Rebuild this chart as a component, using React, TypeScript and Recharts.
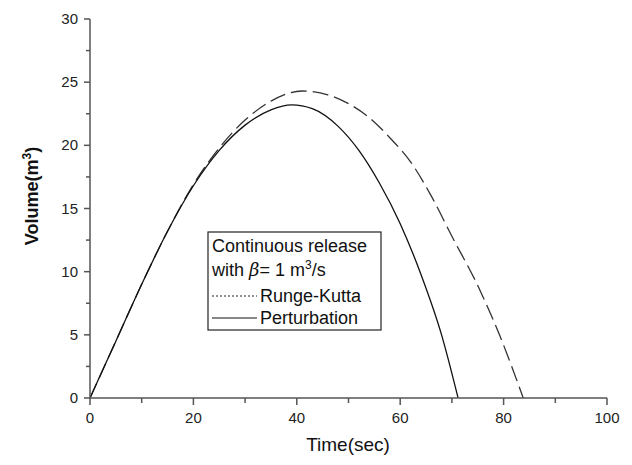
import React from 'react';
import { LineChart, Line, XAxis, YAxis, Customized } from 'recharts';

// Perturbation (solid)
const pertTime = [0, 5, 10, 15, 20, 25, 30, 35, 39, 43, 48, 52, 56, 60, 64, 68, 71.2];
const pertVolume = [0, 4.5, 9.0, 13.2, 16.8, 19.6, 21.6, 22.8, 23.2, 22.9, 21.5, 19.6, 17.0, 13.8, 9.8, 5.0, 0];

// Runge-Kutta (dashed)
const rkTime = [0, 5, 10, 15, 20, 25, 30, 35, 41, 46, 50, 54, 58, 62, 66, 70, 75, 79.3, 83.8];
const rkVolume = [0, 4.5, 9.0, 13.2, 16.9, 19.8, 22.0, 23.5, 24.3, 24.0, 23.3, 22.2, 20.6, 18.7, 16.0, 12.8, 8.9, 4.9, 0];

const xTicks = [0, 10, 20, 30, 40, 50, 60, 70, 80, 90, 100];
const yTicks = [0, 2.5, 5, 7.5, 10, 12.5, 15, 17.5, 20, 22.5, 25, 27.5, 30];

const xTitle = 'Time(sec)';
const yTitle = 'Volume(m';
const legendTitle1 = 'Continuous release';
const legendSeries = ['Runge-Kutta', 'Perturbation'];

const pertData = pertTime.map((t, i) => ({ t, v: pertVolume[i] }));
const rkData = rkTime.map((t, i) => ({ t, v: rkVolume[i] }));

const FONT = '"Liberation Sans", Arial, sans-serif';
const AXIS = '#555';

const XTick = (props: any) => {
  const { x, y, payload } = props;
  const major = payload.value % 20 === 0;
  return (
    <g>
      <line x1={x} y1={y} x2={x} y2={y + (major ? 7 : 5)} stroke={AXIS} strokeWidth={1.5} />
      {major && (
        <text x={x} y={y + 25} textAnchor="middle" fontSize={15} fill="#222" fontFamily={FONT}>
          {payload.value}
        </text>
      )}
    </g>
  );
};

const YTick = (props: any) => {
  const { x, y, payload } = props;
  const major = payload.value % 5 === 0;
  return (
    <g>
      <line x1={x} y1={y} x2={x - (major ? 6 : 4)} y2={y} stroke={AXIS} strokeWidth={1.5} />
      {major && (
        <text x={x - 12} y={y + 5} textAnchor="end" fontSize={15} fill="#222" fontFamily={FONT}>
          {payload.value}
        </text>
      )}
    </g>
  );
};

const Overlay = () => (
  <g fontFamily={FONT} fill="#111">
    <text x={340} y={443} textAnchor="middle" fontSize={19}>{xTitle}</text>
    <text transform="translate(30,188) rotate(-90)" textAnchor="middle" fontSize={18} fontWeight="bold">
      {yTitle}
      <tspan dy={-7} fontSize={12}>3</tspan>
      <tspan dy={7}>)</tspan>
    </text>
    <rect x={200} y={224} width={173} height={98} fill="#fff" stroke="#222" strokeWidth={1.2} />
    <text x={204} y={244} fontSize={18}>{legendTitle1}</text>
    <text x={204} y={268} fontSize={18}>
      with <tspan fontStyle="italic" fontFamily="'DejaVu Serif', serif">β</tspan>= 1 m
      <tspan dy={-7} fontSize={12}>3</tspan>
      <tspan dy={7}>/s</tspan>
    </text>
    <line x1={204} y1={288} x2={249} y2={288} stroke="#222" strokeWidth={1} strokeDasharray="2 2" />
    <text x={252} y={294} fontSize={18}>{legendSeries[0]}</text>
    <line x1={204} y1={310} x2={249} y2={310} stroke="#111" strokeWidth={1.2} />
    <text x={252} y={316} fontSize={18}>{legendSeries[1]}</text>
  </g>
);

export default function App() {
  return (
    <LineChart width={624} height={450} margin={{ top: 11, right: 25, left: 22, bottom: 10 }}>
      <XAxis
        type="number"
        dataKey="t"
        domain={[0, 100]}
        ticks={xTicks}
        interval={0}
        tickSize={0}
        tickMargin={0}
        tickLine={false}
        tick={<XTick />}
        height={50}
        axisLine={{ stroke: AXIS, strokeWidth: 1.5 }}
        allowDataOverflow
      />
      <YAxis
        type="number"
        dataKey="v"
        domain={[0, 30]}
        ticks={yTicks}
        interval={0}
        tickSize={0}
        tickMargin={0}
        tickLine={false}
        tick={<YTick />}
        width={60}
        axisLine={{ stroke: AXIS, strokeWidth: 1.5 }}
        allowDataOverflow
      />
      <Line
        data={rkData}
        dataKey="v"
        type="monotone"
        stroke="#333"
        strokeWidth={1.3}
        strokeDasharray="16 6"
        dot={false}
        activeDot={false}
        isAnimationActive={false}
      />
      <Line
        data={pertData}
        dataKey="v"
        type="monotone"
        stroke="#111"
        strokeWidth={1.3}
        dot={false}
        activeDot={false}
        isAnimationActive={false}
      />
      <Customized component={Overlay} />
    </LineChart>
  );
}
